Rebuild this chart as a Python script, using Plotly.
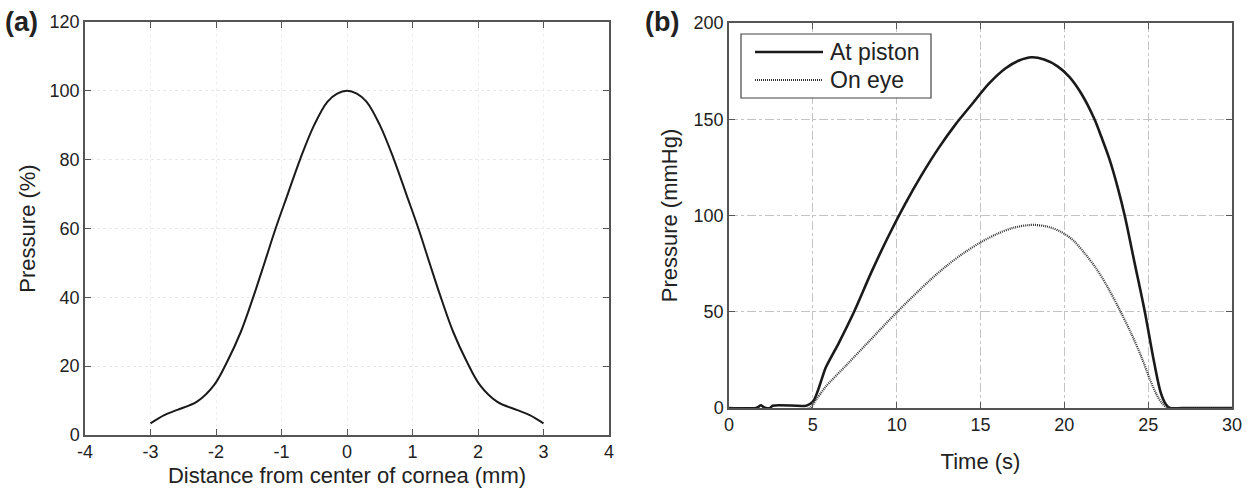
import plotly.graph_objects as go

# ---------- data: panel (a) ----------
dist_mm = [-3.0, -2.79, -2.59, -2.29, -2.03, -1.83, -1.62, -1.42, -1.27, -1.09, -0.91, -0.71, -0.50, -0.30, -0.15,
           0.0, 0.15, 0.30, 0.50, 0.71, 0.91, 1.09, 1.27, 1.42, 1.62, 1.83, 2.03, 2.29, 2.59, 2.79, 3.0]
pressure_pct = [3.4, 5.8, 7.3, 9.7, 14.5, 21.3, 30.0, 40.7, 49.4, 60.0, 69.7, 80.4, 90.1, 96.8, 99.2,
                100.0, 99.2, 96.8, 90.1, 80.4, 69.7, 60.0, 49.4, 40.7, 30.0, 21.3, 14.5, 9.7, 7.3, 5.8, 3.4]

# ---------- data: panel (b) ----------
t_piston = [0, 1.6, 1.75, 1.9, 2.05, 2.2, 2.45, 2.6, 4.6, 4.85, 5.07, 5.3, 5.55, 5.77, 6.56, 7.46, 8.5,
            9.5, 10.5, 11.5, 12.5, 13.5, 14.5, 15.5, 16.5, 17.3, 18.05, 18.8, 19.6, 20.3, 21.0, 21.8,
            22.2, 22.7, 23.2, 23.6, 24.2, 24.8, 25.35, 25.75, 26.05, 26.3, 27, 28, 29, 30]
p_piston = [0, 0, 0.6, 1.4, 0.6, 0, 0, 1.2, 1.2, 2.2, 4.2, 9.0, 15.5, 21.0, 34.0, 50.0, 70.7,
            89.1, 105.9, 121.2, 135.0, 147.2, 157.9, 168.5, 176.5, 180.5, 182.2, 181.0, 177.5, 172.0, 163.5, 150.0,
            141.0, 129.0, 114.0, 100.0, 75.0, 50.0, 24.0, 8.0, 2.0, 0, 0, 0, 0, 0]
t_eye = [0, 4.8, 5.17, 5.76, 6.96, 8.35, 10.04, 12.0, 13.0, 14.0, 15.0, 16.0, 17.0, 18.05, 19.0, 19.8,
         20.5, 21.2, 21.9, 22.6, 23.3, 24.0, 24.6, 25.1, 25.5, 25.8, 26.1, 26.3, 27, 28, 29, 30]
p_eye = [0, 0, 4.0, 11.0, 21.9, 34.6, 50.0, 66.5, 74.0, 80.5, 86.0, 90.5, 93.7, 95.1, 94.2, 91.5,
         87.3, 80.5, 72.5, 62.5, 51.0, 38.5, 26.5, 15.0, 7.0, 2.8, 0.3, 0, 0, 0, 0, 0]

# ---------- tick labels ----------
a_xticks = [-4, -3, -2, -1, 0, 1, 2, 3, 4]
a_xticklabels = ["-4", "-3", "-2", "-1", "0", "1", "2", "3", "4"]
a_yticks = [0, 20, 40, 60, 80, 100, 120]
b_xticks = [0, 5, 10, 15, 20, 25, 30]
b_yticks = [0, 50, 100, 150, 200]

legend_names = ["At piston", "On eye"]

W, H = 1249, 493
FONT = "Liberation Sans, Arial, sans-serif"
TXT = "#222222"
AX = "#555555"


def px(x):
    return x / W


def py(y):
    return 1 - y / H


fig = go.Figure()

fig.add_trace(go.Scatter(x=dist_mm, y=pressure_pct, mode="lines",
                         line=dict(color="#1a1a1a", width=2, shape="spline", smoothing=1.0),
                         xaxis="x", yaxis="y", showlegend=False))
fig.add_trace(go.Scatter(x=t_piston, y=p_piston, mode="lines", name=legend_names[0],
                         line=dict(color="#1a1a1a", width=2.6, shape="spline", smoothing=0.9),
                         xaxis="x2", yaxis="y2", showlegend=False))
fig.add_trace(go.Scatter(x=t_eye, y=p_eye, mode="lines", name=legend_names[1],
                         line=dict(color="#333333", width=2.2, dash="1px,1px", shape="spline", smoothing=0.9),
                         xaxis="x2", yaxis="y2", showlegend=False))

common = dict(showline=True, linecolor=AX, linewidth=1.5, mirror="ticks", ticks="inside",
              ticklen=6, tickcolor=AX, tickwidth=1.2, zeroline=False, automargin=False,
              tickfont=dict(family=FONT, size=18, color=TXT))

fig.update_layout(
    width=W, height=H,
    margin=dict(l=0, r=0, t=0, b=0),
    paper_bgcolor="white", plot_bgcolor="white",
    showlegend=False,
    xaxis=dict(domain=[px(85), px(609)], range=[-4, 4], tickvals=a_xticks, ticktext=a_xticklabels,
               showgrid=True, gridcolor="#efefef", griddash="dot", gridwidth=1,
               title=dict(text="Distance from center of cornea (mm)", standoff=6,
                          font=dict(family=FONT, size=22, color=TXT)),
               anchor="y", **common),
    yaxis=dict(domain=[py(435), py(22)], range=[0, 120], tickvals=a_yticks,
               showgrid=True, gridcolor="#e8e8e8", griddash="dot", gridwidth=1,
               title=dict(text="Pressure (%)", standoff=8, font=dict(family=FONT, size=22, color=TXT)),
               anchor="x", **common),
    xaxis2=dict(domain=[px(729), px(1232)], range=[0, 30], tickvals=b_xticks,
                showgrid=True, gridcolor="#c4c4c4", griddash="dashdot", gridwidth=1,
                title=dict(text="Time (s)", standoff=19, font=dict(family=FONT, size=22, color=TXT)),
                anchor="y2", **common),
    yaxis2=dict(domain=[py(408), py(23)], range=[0, 200], tickvals=b_yticks,
                showgrid=True, gridcolor="#c4c4c4", griddash="dashdot", gridwidth=1,
                title=dict(text="Pressure (mmHg)", standoff=10, font=dict(family=FONT, size=22, color=TXT)),
                anchor="x2", **common),
)

# panel labels
fig.add_annotation(text="<b>(a)</b>", x=px(3), y=py(22), xref="paper", yref="paper",
                   xanchor="left", yanchor="middle", showarrow=False,
                   font=dict(family=FONT, size=27, color=TXT))
fig.add_annotation(text="<b>(b)</b>", x=px(643), y=py(22), xref="paper", yref="paper",
                   xanchor="left", yanchor="middle", showarrow=False,
                   font=dict(family=FONT, size=27, color=TXT))

# custom legend (panel b)
fig.add_shape(type="rect", xref="paper", yref="paper", x0=px(741), x1=px(931), y0=py(98), y1=py(34),
              line=dict(color="#444444", width=1.2), fillcolor="white", layer="above")
fig.add_shape(type="line", xref="paper", yref="paper", x0=px(755), x1=px(823), y0=py(52), y1=py(52),
              line=dict(color="#1a1a1a", width=2.6), layer="above")
fig.add_shape(type="line", xref="paper", yref="paper", x0=px(755), x1=px(823), y0=py(80), y1=py(80),
              line=dict(color="#333333", width=2.2, dash="1px,1px"), layer="above")
fig.add_annotation(text=legend_names[0], x=px(828), y=py(52), xref="paper", yref="paper",
                   xanchor="left", yanchor="middle", showarrow=False,
                   font=dict(family=FONT, size=23, color=TXT))
fig.add_annotation(text=legend_names[1], x=px(828), y=py(80), xref="paper", yref="paper",
                   xanchor="left", yanchor="middle", showarrow=False,
                   font=dict(family=FONT, size=23, color=TXT))

fig.write_html("out.html")
